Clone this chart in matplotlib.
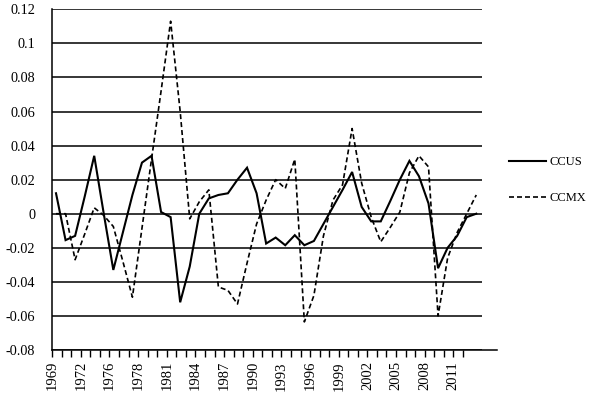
import matplotlib
matplotlib.use("Agg")
import matplotlib.pyplot as plt
from matplotlib.ticker import FixedLocator, FuncFormatter

plt.rcParams['font.family'] = ['Liberation Serif', 'DejaVu Serif']
plt.rcParams['axes.unicode_minus'] = False

# ---- data ----
tick_labels = ["1969", "1972", "1976", "1978", "1981", "1984", "1987", "1990",
               "1993", "1996", "1999", "2002", "2005", "2008", "2011"]
ccus = [0.012, -0.0155, -0.013, 0.010, 0.034, 0.000, -0.033, -0.011, 0.011, 0.030,
        0.034, 0.001, -0.002, -0.052, -0.031, 0.000, 0.009, 0.011, 0.012, 0.020,
        0.027, 0.012, -0.0175, -0.014, -0.0185, -0.0126, -0.0185, -0.016, -0.006, 0.004,
        0.014, 0.0245, 0.004, -0.0045, -0.0045, 0.0075, 0.020, 0.031, 0.022, 0.006,
        -0.032, -0.020, -0.013, -0.002, 0.000]
ccmx = [0.000, 0.000, -0.027, -0.012, 0.0035, -0.001, -0.0075, -0.028, -0.049, -0.0085,
        0.032, 0.072, 0.113, 0.060, -0.003, 0.007, 0.014, -0.043, -0.045, -0.053,
        -0.029, -0.006, 0.008, 0.020, 0.0148, 0.032, -0.0635, -0.048, -0.013, 0.008,
        0.017, 0.050, 0.018, -0.002, -0.0165, -0.008, 0.001, 0.024, 0.034, 0.0275,
        -0.060, -0.026, -0.011, 0.000, 0.011]
series_names = ["CCUS", "CCMX"]

W, H = 609, 398
fig = plt.figure(figsize=(W / 100, H / 100), dpi=100)
ax = fig.add_axes([52 / W, 1 - 350 / H, (482 - 52) / W, (350 - 9.3) / H])

x = list(range(len(ccus)))
ax.plot(x, ccus, color='black', lw=1.5, solid_joinstyle='miter', label=series_names[0])
ax.plot(x, ccmx, color='black', lw=1.2, linestyle=(0, (3, 1.8)), label=series_names[1])

ax.set_xlim(-0.42, 44.6)
ax.set_ylim(-0.08, 0.12)

yt = [-0.08 + 0.02 * k for k in range(11)]
ax.yaxis.set_major_locator(FixedLocator(yt))
ax.yaxis.set_major_formatter(FuncFormatter(lambda v, p: f"{round(v, 2):g}"))
ax.grid(axis='y', color='black', lw=1.1)
ax.set_axisbelow(True)

xt = [k - 0.4 for k in range(44)]
ax.set_xticks(xt)
ax.set_xticklabels([tick_labels[k // 3] if k % 3 == 0 else "" for k in range(44)],
                   rotation=90, fontsize=10.5)
ax.tick_params(axis='x', length=5, width=1, direction='out', pad=3)
ax.tick_params(axis='y', length=0, labelsize=10.3, pad=12)

for s in ['top', 'right', 'bottom']:
    ax.spines[s].set_visible(False)
ax.spines['left'].set_linewidth(1.1)
ax.plot([0, (497 - 52) / (482 - 52)], [0, 0], transform=ax.transAxes,
        color='black', lw=1.1, clip_on=False)

leg = ax.legend(loc='upper left', bbox_to_anchor=(498 / W, 1 - 145 / H),
                bbox_transform=fig.transFigure, frameon=False, fontsize=9,
                handlelength=2.9, handletextpad=0.3, labelspacing=1.9)

fig.savefig("out.png", dpi=100)
